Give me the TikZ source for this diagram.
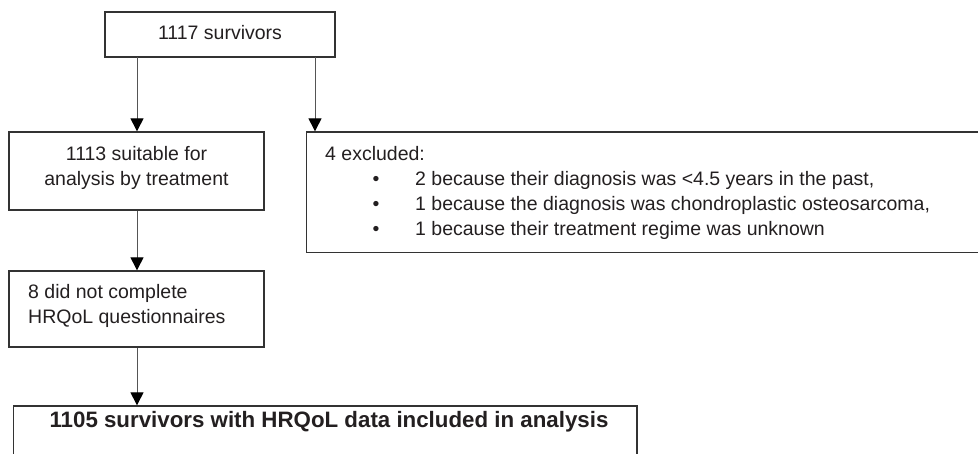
\documentclass[tikz,border=0pt]{standalone}
\usepackage{fontspec}
\setmainfont{Liberation Sans}
\usetikzlibrary{arrows.meta}
\definecolor{ink}{HTML}{231F20}
\definecolor{edge}{HTML}{333333}
\definecolor{conn}{HTML}{555555}
\begin{document}
\begin{tikzpicture}[x=1pt,y=-1pt,
  font=\fontsize{19.5}{25}\selectfont,
  box/.style={draw=edge,line width=1.3pt,rectangle,inner sep=0pt,text=ink},
  txt/.style={inner sep=0pt,text=ink,anchor=base west},
  link/.style={draw=conn,line width=1pt,-{Triangle[length=13pt,width=13pt,color=black]}}]
\useasboundingbox (0,0) rectangle (978,453);
% boxes
\node[box,minimum width=230pt,minimum height=45pt] (b1) at (220,34.5) {};
\node[txt,anchor=base] (t1) at (220,39) {1117 survivors};
\node[box,minimum width=255pt,minimum height=78pt] (b2) at (136.5,171) {};
\node[txt,anchor=base] (t2a) at (136.5,160) {1113 suitable for};
\node[txt,anchor=base] (t2b) at (136.5,185) {analysis by treatment};
\node[box,minimum width=673.3pt,minimum height=120.7pt] (b3) at (643.35,192.35) {};
\node[txt] (t3) at (325,160) {4 excluded:};
\node[txt,anchor=base] (u1) at (376,185) {•};
\node[txt,anchor=base] (u2) at (376,210) {•};
\node[txt,anchor=base] (u3) at (376,235) {•};
\node[txt] (l1) at (415,185) {2 because their diagnosis was <4.5 years in the past,};
\node[txt] (l2) at (415,210) {1 because the diagnosis was chondroplastic osteosarcoma,};
\node[txt] (l3) at (415,235) {1 because their treatment regime was unknown};
\node[box,minimum width=255pt,minimum height=76pt] (b4) at (136.5,309) {};
\node[txt] (t4a) at (28,298) {8 did not complete};
\node[txt] (t4b) at (28,323) {HRQoL questionnaires};
\node[box,minimum width=623.3pt,minimum height=56pt] (b5) at (325.35,434) {};
\node[txt,anchor=base,font=\fontsize{22.3}{26}\selectfont\bfseries] (t5) at (329,427) {1105 survivors with HRQoL data included in analysis};
% connectors
\coordinate (s1) at (137,57);
\coordinate (s2) at (315,57);
\draw[link] (s1) -- (s1 |- b2.north);
\draw[link] (s2) -- (s2 |- b3.north);
\draw[link] (s1 |- b2.south) -- (s1 |- b4.north);
\draw[link] (s1 |- b4.south) -- (s1 |- b5.north);
\end{tikzpicture}
\end{document}
